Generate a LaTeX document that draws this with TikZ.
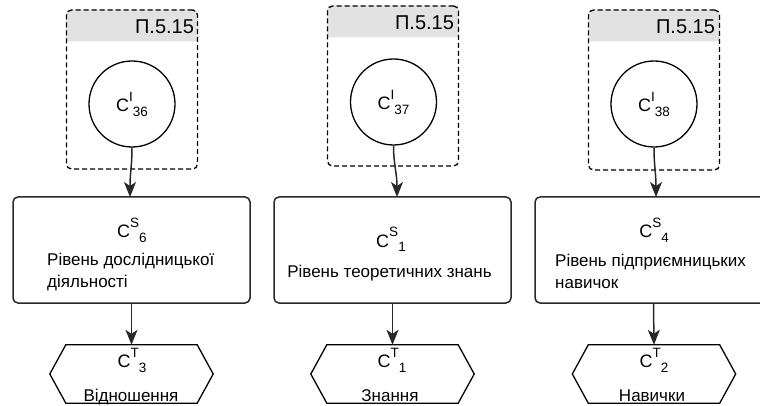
\documentclass[tikz,border=0pt]{standalone}
\usepackage{fontspec}
\setmainfont{Liberation Sans}
\usetikzlibrary{arrows.meta,backgrounds,calc}
\definecolor{hdr}{RGB}{226,226,226}
\definecolor{edgec}{RGB}{40,40,40}
\newcommand\Clab[2]{{\fontsize{18}{18}\selectfont C}\raisebox{10pt}{\fontsize{13.5}{13.5}\selectfont #1}\raisebox{-5pt}{\fontsize{13.5}{13.5}\selectfont #2}}
\begin{document}
\begin{tikzpicture}[x=1pt,y=-1pt,
  grp/.style={draw=black, line width=1.3pt, dash pattern=on 5pt off 3pt, rounded corners=5pt, minimum width=131pt, inner sep=0pt},
  circ/.style={draw=black, line width=1.3pt, circle, minimum size=86pt, inner sep=0pt},
  hdrtxt/.style={anchor=base east, inner sep=0pt, font=\fontsize{20}{20}\selectfont},
  sbox/.style={draw=edgec, line width=1.5pt, rounded corners=5pt, minimum width=237pt, minimum height=106pt, inner sep=0pt},
  hexa/.style={minimum width=163pt, minimum height=58pt, inner sep=0pt},
  hexline/.style={draw=black, line width=1.3pt},
  lbl/.style={anchor=base, inner sep=0pt},
  txtl/.style={anchor=base west, inner sep=0pt, font=\fontsize{17}{17}\selectfont},
  txtc/.style={anchor=base, inner sep=0pt, font=\fontsize{17}{17}\selectfont},
  arr/.style={draw=edgec, line width=1.5pt, -{Stealth[length=15pt,width=12pt,inset=4pt]}}
]
\useasboundingbox (0,0) rectangle (760,406);

% dashed groups
\node[grp, minimum height=159pt] (g1) at (132,89.5) {};
\node[grp, minimum height=160pt] (g2) at (393,86) {};
\node[grp, minimum height=160pt] (g3) at (654,90) {};
\begin{scope}[on background layer]
\foreach \g in {g1,g2,g3}{
  \fill[hdr] (\g.north west) ++(0,32) [rounded corners=5pt] -- (\g.north west) -- (\g.north east) [sharp corners] -- ++(0,32) -- cycle;
}
\end{scope}
\node[hdrtxt] (p1) at ($(g1.north east)+(-4,24)$) {П.5.15};
\node[hdrtxt] (p2) at ($(g2.north east)+(-5,24)$) {П.5.15};
\node[hdrtxt] (p3) at ($(g3.north east)+(-5,24)$) {П.5.15};

% circles
\node[circ] (c1) at (132,104) {\Clab{I}{36}};
\node[circ] (c2) at (393.5,102) {\Clab{I}{37}};
\node[circ] (c3) at (654,104) {\Clab{I}{38}};

% boxes
\node[sbox] (b1) at (131.5,250) {};
\node[sbox] (b2) at (392.5,250) {};
\node[sbox] (b3) at (653.5,250) {};
\node[lbl] (b1c) at (132,237) {\Clab{S}{6}};
\node[txtl] (b1t) at (47,265) {Рівень дослідницької};
\node[txtl] (b1u) at (47,287) {діяльності};
\node[lbl] (b2c) at (391,247) {\Clab{S}{1}};
\node[txtc] (b2t) at (389.5,277) {Рівень теоретичних знань};
\node[lbl] (b3c) at (654,237) {\Clab{S}{4}};
\node[txtl] (b3t) at (555,266) {Рівень підприємницьких};
\node[txtl] (b3u) at (555,288) {навичок};

% hexagons
\node[hexa] (h1) at (131.5,374) {};
\node[hexa] (h2) at (392.5,374) {};
\node[hexa] (h3) at (654,374) {};
\foreach \h in {h1,h2,h3}{
  \draw[hexline] ($(\h.north west)+(16,0)$) -- ($(\h.north east)+(-16,0)$) -- (\h.east) -- ($(\h.south east)+(-16,0)$) -- ($(\h.south west)+(16,0)$) -- (\h.west) -- cycle;
}
\node[lbl] (h1c) at (132,367) {\Clab{T}{3}};
\node[txtc] (h1t) at (131,401) {Відношення};
\node[lbl] (h2c) at (392,367) {\Clab{T}{1}};
\node[txtc] (h2t) at (390,401) {Знання};
\node[lbl] (h3c) at (654,367) {\Clab{T}{2}};
\node[txtc] (h3t) at (652,401) {Навички};

% arrows
\coordinate (e1) at (130,197);
\coordinate (e2) at (397,197);
\coordinate (e3) at (656,197);
\draw[arr] (c1.south) .. controls +(0,18) and +(0,-24) .. (e1);
\draw[arr] (c2.south) .. controls +(0,18) and +(0,-24) .. (e2);
\draw[arr] (c3.south) .. controls +(0,18) and +(0,-24) .. (e3);
\draw[arr] (b1.south) -- (h1.north);
\draw[arr] (b2.south) -- (h2.north);
\draw[arr] (b3.south) -- (h3.north);
\end{tikzpicture}
\end{document}
